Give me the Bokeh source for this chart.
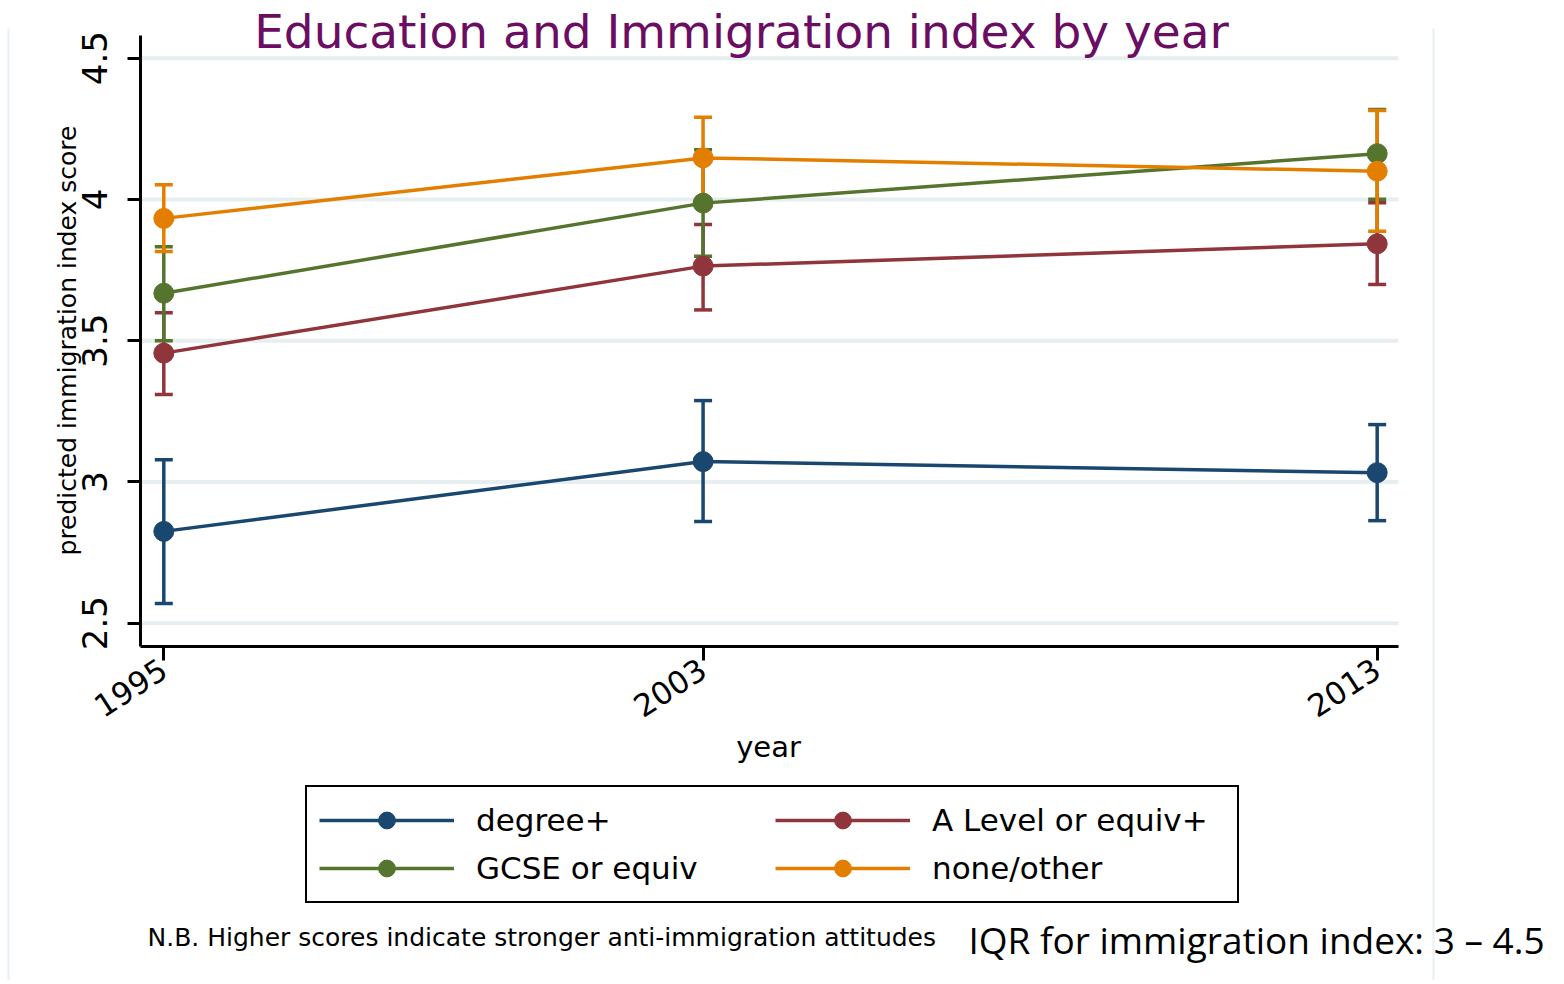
import math
from bokeh.plotting import figure
from bokeh.models import (Label, Legend, LegendItem, FixedTicker, Range1d)
from bokeh.embed import file_html
from bokeh.resources import INLINE

# ---- data ----
years = [1995, 2003, 2013]
series_names = ["degree+", "A Level or equiv+", "GCSE or equiv", "none/other"]
series_colors = ["#1a476f", "#90353b", "#55752f", "#e37e00"]
degree_mean = [2.825, 3.072, 3.033]
degree_lo = [2.570, 2.860, 2.863]
degree_hi = [3.079, 3.288, 3.203]
alevel_mean = [3.456, 3.764, 3.843]
alevel_lo = [3.310, 3.609, 3.699]
alevel_hi = [3.599, 3.911, 3.988]
gcse_mean = [3.668, 3.987, 4.162]
gcse_lo = [3.500, 3.799, 4.001]
gcse_hi = [3.833, 4.176, 4.318]
none_mean = [3.933, 4.147, 4.100]
none_lo = [3.816, 4.000, 3.887]
none_hi = [4.052, 4.291, 4.315]
y_ticks = [2.5, 3, 3.5, 4, 4.5]
y_tick_labels = ["2.5", "3", "3.5", "4", "4.5"]

means = [degree_mean, alevel_mean, gcse_mean, none_mean]
los = [degree_lo, alevel_lo, gcse_lo, none_lo]
his = [degree_hi, alevel_hi, gcse_hi, none_hi]

FONT = "DejaVu Sans"

# ---- layout geometry (canvas pixels) ----
W, H = 1560, 980
PX_PER_YEAR = 67.41
PX_PER_UNIT = 282.5
X_ORIGIN_PX, Y_ORIGIN_PX = 163.3, 57.7   # pixel of 1995 and of 4.5


def to_x(px):
    return 1995 + (px - X_ORIGIN_PX) / PX_PER_YEAR


def to_y(py):
    return 4.5 - (py - Y_ORIGIN_PX) / PX_PER_UNIT


plot_left, plot_right = to_x(140), to_x(1398)
plot_bottom, plot_top = to_y(645.7), to_y(35)

p = figure(width=W, height=H, min_border=0,
           x_range=Range1d(to_x(0), to_x(W)), y_range=Range1d(to_y(H), to_y(0)),
           output_backend="svg", toolbar_location=None,
           background_fill_color="white", border_fill_color="white")
p.outline_line_color = None
p.xgrid.visible = False
p.ygrid.visible = False

# axes placed inside the (full-canvas) frame
p.xaxis.fixed_location = plot_bottom
p.yaxis.fixed_location = plot_left
p.xaxis.bounds = (plot_left, plot_right)
p.yaxis.bounds = (plot_bottom, plot_top)
p.xaxis.ticker = FixedTicker(ticks=years)
p.yaxis.ticker = FixedTicker(ticks=y_ticks)
p.yaxis.major_label_overrides = {t: l for t, l in zip(y_ticks, y_tick_labels)}
p.xaxis.minor_tick_line_color = None
p.yaxis.minor_tick_line_color = None
for ax in (p.xaxis[0], p.yaxis[0]):
    ax.axis_line_width = 3
    ax.axis_line_color = "black"
    ax.major_tick_line_width = 3
    ax.major_tick_line_color = "black"
    ax.major_tick_in = 0
    ax.major_label_text_font = FONT
    ax.major_label_text_color = "black"
p.yaxis.major_tick_out = 13
p.xaxis.major_tick_out = 14
p.yaxis.major_label_orientation = "vertical"
p.yaxis.major_label_text_font_size = "34px"
p.yaxis.major_label_standoff = 20
p.xaxis.major_label_orientation = math.radians(33)
p.xaxis.major_label_text_font_size = "31px"
p.xaxis.major_label_standoff = 6

# grid lines (only across the plot region)
p.segment(x0=[plot_left] * len(y_ticks), y0=y_ticks, x1=[plot_right] * len(y_ticks), y1=y_ticks,
          line_color="#e6eef0", line_width=4)

# faint outer graph-region border lines
p.segment(x0=[to_x(8), to_x(1433)], y0=[to_y(28)] * 2, x1=[to_x(8), to_x(1433)], y1=[to_y(H)] * 2,
          line_color="#e9eff4", line_width=2)

# CI bars
for m, lo, hi, c in zip(means, los, his, series_colors):
    p.segment(x0=years, y0=lo, x1=years, y1=hi, line_color=c, line_width=3.5)
    p.scatter(x=years, y=lo, marker="dash", size=18, line_color=c, line_width=3.5)
    p.scatter(x=years, y=hi, marker="dash", size=18, line_color=c, line_width=3.5)

items = []
for m, c, name in zip(means, series_colors, series_names):
    lr = p.line(x=years, y=m, line_color=c, line_width=3.5)
    sr = p.scatter(x=years, y=m, size=20, fill_color=c, line_color=c)
    items.append(LegendItem(label=name, renderers=[lr, sr]))

legend = Legend(items=items, location=(305, H - 903), orientation="horizontal", ncols=2,
                glyph_width=135, glyph_height=42, label_standoff=22,
                label_width=293, label_height=42,
                label_text_font=FONT, label_text_font_size="31px", label_text_color="black",
                spacing=6, padding=12, margin=0,
                border_line_color="black", border_line_width=2, border_line_alpha=1,
                background_fill_color="white", background_fill_alpha=1)
p.add_layout(legend, "center")

# texts (screen units relative to canvas bottom-left)
p.add_layout(Label(x=741, y=H - 31, x_units="screen", y_units="screen",
                   text="Education and Immigration index by year",
                   text_font=FONT, text_font_size="47px", text_color="#6b0d63",
                   text_align="center", text_baseline="alphabetic"))
p.add_layout(Label(x=67, y=H - 340, x_units="screen", y_units="screen", angle=math.pi / 2,
                   text="predicted immigration index score",
                   text_font=FONT, text_font_size="25px", text_color="black",
                   text_align="center", text_baseline="middle"))
p.add_layout(Label(x=768, y=H - 746, x_units="screen", y_units="screen", text="year",
                   text_font=FONT, text_font_size="29px", text_color="black",
                   text_align="center", text_baseline="middle"))
p.add_layout(Label(x=147, y=H - 937, x_units="screen", y_units="screen",
                   text="N.B. Higher scores indicate stronger anti-immigration attitudes",
                   text_font=FONT, text_font_size="25px", text_color="black",
                   text_align="left", text_baseline="alphabetic"))
p.add_layout(Label(x=968, y=H - 939, x_units="screen", y_units="screen",
                   text="IQR for immigration index: 3 \u2013 4.5",
                   text_font="Open Sans", text_font_size="37px", text_color="black",
                   text_align="left", text_baseline="alphabetic"))

open("out.html", "w").write(file_html(p, INLINE))
